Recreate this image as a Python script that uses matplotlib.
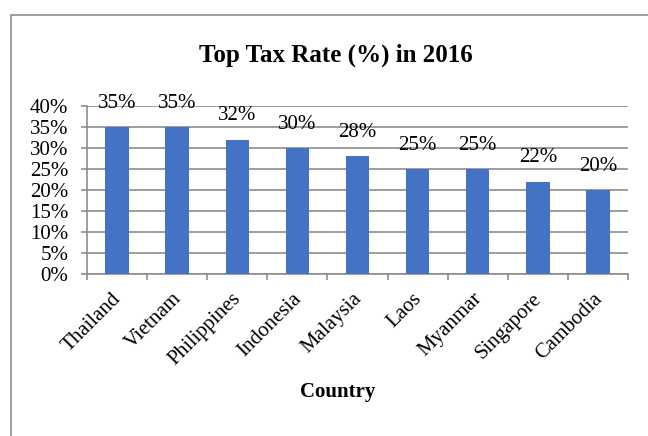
import matplotlib
matplotlib.use('Agg')
import matplotlib.pyplot as plt
import matplotlib.transforms as mtransforms
import numpy as np
from matplotlib.patches import Rectangle
from matplotlib.ticker import FixedLocator, PercentFormatter

countries = ['Thailand', 'Vietnam', 'Philippines', 'Indonesia', 'Malaysia',
             'Laos', 'Myanmar', 'Singapore', 'Cambodia']
top_rates = [0.35, 0.35, 0.32, 0.30, 0.28, 0.25, 0.25, 0.22, 0.20]
y_ticks = [0.0, 0.05, 0.10, 0.15, 0.20, 0.25, 0.30, 0.35, 0.40]


def run():
    plt.rcParams['font.family'] = ['Liberation Serif', 'DejaVu Serif']
    W, H = 648, 436
    fig = plt.figure(figsize=(W / 100, H / 100), dpi=100)

    # outer chart frame (cut off on the right and bottom)
    fig.patches.append(Rectangle((11 / W, -0.1), 1.2, 1 - 15 / H + 0.1,
                                 transform=fig.transFigure, fill=False,
                                 edgecolor='#8c8c8c', linewidth=1.2))

    ax = fig.add_axes([87 / W, 1 - 274 / H, (628 - 87) / W, (274 - 106) / H])
    x = np.arange(len(countries))
    bars = ax.bar(x, top_rates, width=0.39, color='#4472C4', zorder=3)

    ax.set_xlim(-0.5, len(countries) - 0.5)
    ax.set_ylim(0, 0.40)
    ax.set_yticks(y_ticks)
    ax.yaxis.set_major_formatter(PercentFormatter(1.0, decimals=0))
    ax.yaxis.grid(True, color='#8c8c8c', linewidth=1.2, zorder=0)
    ax.set_axisbelow(True)

    for side in ['top', 'right']:
        ax.spines[side].set_visible(False)
    for side in ['left', 'bottom']:
        ax.spines[side].set_color('#8c8c8c')
        ax.spines[side].set_linewidth(1.2)

    ax.tick_params(axis='y', length=4.5, width=1.2, color='#8c8c8c',
                   labelsize=15, pad=9)
    ax.set_xticks(x)
    ax.set_xticklabels(countries, rotation=45, ha='right', va='top',
                       rotation_mode='anchor', fontsize=15)
    ax.tick_params(axis='x', which='major', length=0, pad=11)
    shift = mtransforms.ScaledTranslation(-4 / 72, 0, fig.dpi_scale_trans)
    for lbl in ax.get_xticklabels():
        lbl.set_transform(lbl.get_transform() + shift)
    ax.xaxis.set_minor_locator(FixedLocator(np.arange(len(countries) + 1) - 0.5))
    ax.tick_params(axis='x', which='minor', length=4.5, width=1.2,
                   color='#8c8c8c')

    for b, v in zip(bars, top_rates):
        ax.annotate(f'{round(v * 100)}%', (b.get_x() + b.get_width() / 2, v),
                    xytext=(0, 14), textcoords='offset points',
                    ha='center', va='baseline', fontsize=15)

    fig.text(336 / W, 1 - 62 / H, 'Top Tax Rate (%) in 2016', ha='center',
             va='baseline', fontsize=18, fontweight='bold')
    fig.text(338 / W, 1 - 397 / H, 'Country', ha='center', va='baseline',
             fontsize=15, fontweight='bold')

    fig.savefig('out.png', dpi=100)


if __name__ == '__main__':
    run()
